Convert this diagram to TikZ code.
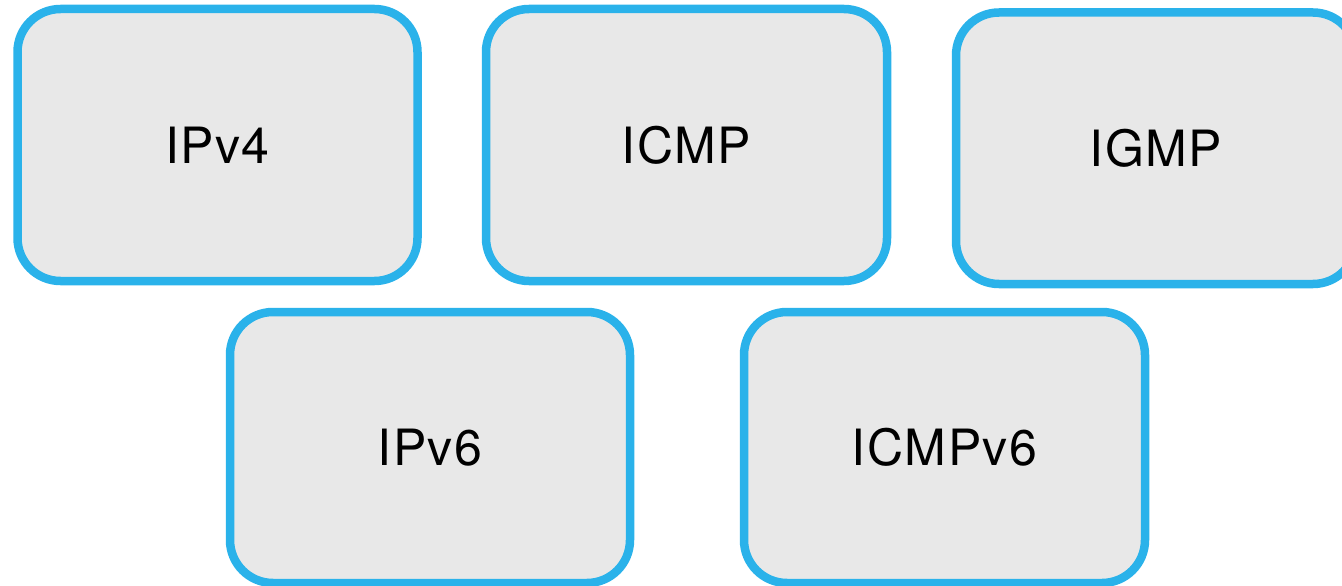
\documentclass[tikz,border=0pt]{standalone}
\usepackage{fontspec}
\setmainfont[LetterSpace=3]{TeX Gyre Heros}
\definecolor{protoblue}{RGB}{42,178,234}
\definecolor{protofill}{RGB}{232,232,232}
\begin{document}
\begin{tikzpicture}[x=1pt,y=-1pt,
  proto/.style={draw=protoblue, fill=protofill, line width=8.5pt,
    rounded corners=43pt, rectangle, inner sep=0pt,
    minimum width=400pt, minimum height=272pt,
    font=\fontsize{50}{60}\selectfont, text=black}]
  \useasboundingbox (0,0) rectangle (1342,586);
  % upper row
  \node[proto] (ipv4) at (217.5,145) {IPv4};
  \node[proto, minimum width=401pt] (icmp) at (686.5,145) {ICMP};
  \node[proto, minimum height=271.5pt] (igmp) at (1156,148.25) {IGMP};
  % lower row
  \node[proto, minimum height=271pt] (ipv6) at (430,447.5) {IPv6};
  \node[proto, minimum width=401pt, minimum height=271pt] (icmpv6) at (944.5,447.5) {ICMPv6};
\end{tikzpicture}
\end{document}
